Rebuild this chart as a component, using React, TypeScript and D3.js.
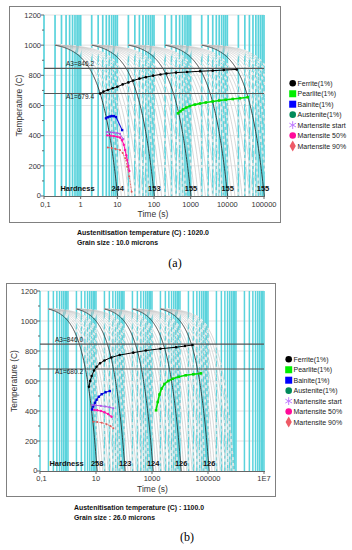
import React from "react";
import * as d3 from "d3";

type Pt = [number, number];

const FONT = "'Liberation Sans', Arial, Helvetica, sans-serif";

// ---------- shared ----------
const tempTicks = [0, 200, 400, 600, 800, 1000, 1200];
const tempMinorTicks = [100, 300, 500, 700, 900, 1100];
const gridMultipliers = [1, 2, 3, 4, 5, 6, 7, 8, 9];
const fanRatios = [0.79, 0.63, 0.5, 0.4, 0.32, 0.25, 0.2, 0.16, 0.13];
const coolStarts = [0.2, 2, 20, 200, 2000];
const coolRates = [100, 10, 1, 0.1, 0.01];
const legendLabels = [
  "Ferrite(1%)",
  "Pearlite(1%)",
  "Bainite(1%)",
  "Austenite(1%)",
  "Martensite start",
  "Martensite 50%",
  "Martensite 90%",
];

// ---------- panel (a) ----------
const timeTicksA = [0.1, 1, 10, 100, 1000, 10000, 100000];
const timeTickLabelsA = ["0,1", "1", "10", "100", "1000", "10000", "100000"];
const coolT0A = 1000;
const a3A = 846.2;
const a1A = 679.4;
const hardnessA = ["244", "153", "155", "155", "155"];
const ferriteA: Pt[] = [
  [3.4, 679], [4.2, 692], [5.5, 703], [7.5, 714], [10, 724], [14, 740], [20, 753],
  [27, 765], [40, 778], [60, 788], [95, 798], [150, 806], [220, 812], [400, 818],
  [800, 822], [1800, 827], [4000, 831], [8000, 835], [18000, 839],
];
const pearliteA: Pt[] = [
  [450, 548], [530, 562], [620, 575], [750, 586], [950, 596], [1300, 606], [1800, 613],
  [2600, 620], [4000, 627], [6000, 633], [9000, 638], [14000, 643], [22000, 648], [36000, 655],
];
const bainiteA: Pt[] = [
  [4.9, 515], [5.5, 522], [6.2, 527], [7, 530], [8, 530], [9.2, 524], [13.5, 437],
];
const msA: Pt[] = [[5.2, 424], [6.5, 422], [8, 420], [10, 417], [11.8, 412], [14.5, 378]];
const m50A: Pt[] = [
  [5.3, 402], [6.5, 400], [8, 397], [10, 393], [11.8, 388], [13.5, 370], [15, 340],
  [16.2, 305], [17.5, 270], [18.6, 238], [20, 200], [21.2, 166],
];
const m90A: Pt[] = [
  [5.5, 322], [7, 318], [9, 312], [11.8, 305], [14, 285], [16.5, 250], [18.6, 194],
  [21, 130], [24.5, 28],
];

// ---------- panel (b) ----------
const timeTicksB = [0.1, 10, 1000, 100000, 10000000];
const timeTickLabelsB = ["0,1", "10", "1000", "100000", "1E7"];
const coolT0B = 1080;
const a3B = 846.0;
const a1B = 680.2;
const hardnessB = ["258", "123", "124", "126", "126"];
const ferriteB: Pt[] = [
  [5.6, 562], [6.2, 600], [7, 633], [8.5, 670], [10.5, 695], [13.9, 718], [20, 737],
  [35, 757], [70, 773], [214, 789], [600, 803], [2000, 815], [7200, 825], [15000, 833],
  [28000, 840],
];
const pearliteB: Pt[] = [
  [1400, 405], [1600, 460], [1850, 510], [2200, 550], [2800, 580], [3800, 600],
  [5500, 615], [9000, 628], [16000, 638], [30000, 645], [56000, 651],
];
const bainiteB: Pt[] = [
  [7.2, 410], [8, 430], [9.2, 455], [10.5, 475], [12.5, 495], [16, 512], [22, 525], [31, 533],
];
const msB: Pt[] = [[7.4, 440], [10, 438], [15, 434], [22, 430], [30, 425], [41.5, 418]];
const m50B: Pt[] = [[8.7, 407], [11, 405], [15, 400], [20, 392], [27, 380], [36, 362]];
const m90B: Pt[] = [[8, 329], [11, 327], [16, 322], [24, 312], [33, 300], [41.5, 285]];

interface PanelCfg {
  id: string;
  frame: [number, number, number, number];
  xRange: [number, number];
  xDomain: [number, number];
  yRange: [number, number];
  xTicks: number[];
  xTickLabels: string[];
  xLabelY: number;
  yLabelX: number;
  T0: number;
  a3: number;
  a1: number;
  aLabelX: number;
  hardness: string[];
  hardnessLabelX: number;
  hardnessY: number;
  ferrite: Pt[];
  pearlite: Pt[];
  bainite: Pt[];
  ms: Pt[];
  m50: Pt[];
  m90: Pt[];
  legendX: number;
  legendY: number;
  legendStep: number;
  timeLabel: [number, number];
  tempLabel: [number, number];
  info: string[];
  infoX: number;
  infoY: number[];
  infoLen: number[];
  caption: string;
  captionPos: [number, number];
  gridW: number;
}

const CYAN = "#5ad3dc";

function Panel({ c }: { c: PanelCfg }) {
  const x = d3.scaleLog().domain(c.xDomain).range(c.xRange);
  const y = d3.scaleLinear().domain([0, 1200]).range(c.yRange);
  const line = d3
    .line<Pt>()
    .x((d) => x(d[0]))
    .y((d) => y(d[1]));

  const e0 = Math.round(Math.log10(c.xDomain[0]));
  const e1 = Math.round(Math.log10(c.xDomain[1]));
  const gridTimes: number[] = [];
  for (let e = e0; e < e1; e++) {
    for (const m of gridMultipliers) gridTimes.push(m * Math.pow(10, e));
  }
  gridTimes.push(c.xDomain[1]);

  const coolPath = (ts: number, r: number) => {
    const tEnd = ts + c.T0 / r;
    const n = 160;
    const pts: Pt[] = d3.range(n).map((i) => {
      const t = ts * Math.pow(tEnd / ts, i / (n - 1));
      return [t, Math.max(0, c.T0 - r * (t - ts))] as Pt;
    });
    return line(pts) || "";
  };

  const [x0, x1] = c.xRange;
  const yBot = y(0);
  const yTop = y(1200);

  const fan: string[] = [];
  coolStarts.forEach((ts, i) => {
    fanRatios.forEach((f) => fan.push(coolPath(ts, coolRates[i] * f)));
  });
  const blacks = coolStarts.map((ts, i) => coolPath(ts, coolRates[i]));
  const ends = coolStarts.map((ts, i) => ts + c.T0 / coolRates[i]);

  const sym = (type: d3.SymbolType, size: number) => d3.symbol().type(type).size(size)() || "";

  const legendSymbols = [
    <circle r={3.3} fill="#000" />,
    <rect x={-3.5} y={-3.5} width={7} height={7} fill="#00ee00" />,
    <rect x={-3.5} y={-3.5} width={7} height={7} fill="#0000ff" />,
    <circle r={3.3} fill="#008a5a" />,
    <path d={sym(d3.symbolAsterisk, 42)} stroke="#c07cff" strokeWidth={1} fill="none" />,
    <circle r={3.3} fill="#ff0a9a" />,
    <path d={sym(d3.symbolDiamond, 34)} fill="#ee5a66" />,
  ];

  return (
    <g>
      <rect
        x={c.frame[0] + 0.5}
        y={c.frame[1] + 0.5}
        width={c.frame[2]}
        height={c.frame[3]}
        fill="#fff"
        stroke="#808080"
        strokeWidth={1}
      />
      <defs>
        <clipPath id={`clip-${c.id}`}>
          <rect x={x0} y={yTop} width={x1 - x0 + 1} height={yBot - yTop} />
        </clipPath>
      </defs>
      {tempTicks.slice(1).map((t) => (
        <line key={`hg${t}`} x1={x0} x2={x1} y1={y(t)} y2={y(t)} stroke="#e2e2e2" strokeWidth={1} />
      ))}
      {gridTimes.map((t, i) => (
        <line key={`cg${i}`} x1={x(t)} x2={x(t)} y1={yTop} y2={yBot} stroke={CYAN} strokeWidth={c.gridW} />
      ))}
      <g clipPath={`url(#clip-${c.id})`}>
        {fan.map((d, i) => (
          <path key={`fw${i}`} d={d} fill="none" stroke="#fff" strokeWidth={1.6} strokeDasharray="3 3" />
        ))}
        {fan.map((d, i) => (
          <path key={`fg${i}`} d={d} fill="none" stroke="#bdbdbd" strokeWidth={0.6} />
        ))}
        {blacks.map((d, i) => (
          <path key={`bk${i}`} d={d} fill="none" stroke="#333" strokeWidth={0.9} />
        ))}
      </g>
      {[c.a3, c.a1].map((a, i) => (
        <line key={`al${i}`} x1={x0} x2={x1} y1={y(a)} y2={y(a)} stroke="#555" strokeWidth={1.1} />
      ))}
      <text x={c.aLabelX} y={y(c.a3) - 2.5} fontSize={6.5} fontFamily={FONT} fill="#222">
        {`A3=${c.a3.toFixed(1)}`}
      </text>
      <text x={c.aLabelX} y={y(c.a1) + 5.5} fontSize={6.5} fontFamily={FONT} fill="#222">
        {`A1=${c.a1.toFixed(1)}`}
      </text>
      <path d={line(c.ferrite) || ""} fill="none" stroke="#000" strokeWidth={1} />
      {c.ferrite.map((p, i) => (
        <circle key={`fd${i}`} cx={x(p[0])} cy={y(p[1])} r={1.3} fill="#000" />
      ))}
      <path d={line(c.pearlite) || ""} fill="none" stroke="#00e000" strokeWidth={1.6} />
      {c.pearlite.map((p, i) => (
        <rect key={`pd${i}`} x={x(p[0]) - 1.3} y={y(p[1]) - 1.3} width={2.6} height={2.6} fill="#00dd00" />
      ))}
      <path d={line(c.bainite) || ""} fill="none" stroke="#1a1ad8" strokeWidth={1.1} />
      {c.bainite.map((p, i) => (
        <rect key={`bd${i}`} x={x(p[0]) - 1.2} y={y(p[1]) - 1.2} width={2.4} height={2.4} fill="#0000dd" />
      ))}
      <path d={line(c.ms) || ""} fill="none" stroke="#b05ae8" strokeWidth={1} />
      {c.ms.map((p, i) => (
        <circle key={`sd${i}`} cx={x(p[0])} cy={y(p[1])} r={1.1} fill="#b05ae8" />
      ))}
      <path d={line(c.m50) || ""} fill="none" stroke="#ff14a8" strokeWidth={1.1} />
      {c.m50.map((p, i) => (
        <circle key={`m5${i}`} cx={x(p[0])} cy={y(p[1])} r={1.2} fill="#ff14a8" />
      ))}
      <path d={line(c.m90) || ""} fill="none" stroke="#e86a6a" strokeWidth={0.9} strokeDasharray="2 1" />
      {c.m90.map((p, i) => (
        <circle key={`m9${i}`} cx={x(p[0])} cy={y(p[1])} r={1} fill="#e05a5a" />
      ))}
      <line x1={x0} x2={x1 + 1} y1={yBot + 0.5} y2={yBot + 0.5} stroke="#666" strokeWidth={1} />
      {c.xTicks.map((t, i) => (
        <g key={`xt${i}`}>
          <line x1={x(t)} x2={x(t)} y1={yBot} y2={yBot + 3} stroke="#666" strokeWidth={1} />
          <text x={x(t) + (i === 0 ? 1.5 : 0)} y={c.xLabelY} textAnchor="middle" fontSize={7.5} fontFamily={FONT} fill="#333">
            {c.xTickLabels[i]}
          </text>
        </g>
      ))}
      {tempTicks.map((t) => (
        <g key={`yt${t}`}>
          <line x1={x0 - 3} x2={x0} y1={y(t)} y2={y(t)} stroke="#666" strokeWidth={1} />
          <text x={c.yLabelX} y={y(t) + (t === 0 ? 1.8 : 2.7)} textAnchor="end" fontSize={7.5} fontFamily={FONT} fill="#333">
            {t}
          </text>
        </g>
      ))}
      {tempMinorTicks.map((t) => (
        <line key={`ym${t}`} x1={x0 - 2} x2={x0} y1={y(t)} y2={y(t)} stroke="#666" strokeWidth={1} />
      ))}
      <text x={c.hardnessLabelX} y={c.hardnessY} textAnchor="middle" fontSize={7.5} fontWeight="bold" fontFamily={FONT} fill="#111">
        Hardness
      </text>
      {c.hardness.map((h, i) => (
        <text key={`hd${i}`} x={Math.min(x(ends[i]), x1 - 1)} y={c.hardnessY} textAnchor="middle" fontSize={7.5} fontWeight="bold" fontFamily={FONT} fill="#111">
          {h}
        </text>
      ))}
      <text x={c.timeLabel[0]} y={c.timeLabel[1]} textAnchor="middle" fontSize={8.5} fontFamily={FONT} fill="#333">
        Time (s)
      </text>
      <text
        transform={`translate(${c.tempLabel[0]},${c.tempLabel[1]}) rotate(-90)`}
        textAnchor="middle"
        fontSize={8.5}
        fontFamily={FONT}
        fill="#333"
      >
        Temperature (C)
      </text>
      {legendLabels.map((l, i) => (
        <g key={`lg${i}`} transform={`translate(${c.legendX},${c.legendY + i * c.legendStep})`}>
          {legendSymbols[i]}
          <text x={4.8} y={2.5} fontSize={7} fontFamily={FONT} fill="#222">
            {l}
          </text>
        </g>
      ))}
      {c.info.map((s, i) => (
        <text
          key={`in${i}`}
          x={c.infoX}
          y={c.infoY[i]}
          fontSize={7}
          fontWeight="bold"
          fontFamily={FONT}
          fill="#111"
          textLength={c.infoLen[i]}
          lengthAdjust="spacingAndGlyphs"
        >
          {s}
        </text>
      ))}
      <text
        x={c.captionPos[0]}
        y={c.captionPos[1]}
        textAnchor="middle"
        fontSize={12}
        fontFamily="'Liberation Serif', 'Times New Roman', serif"
        fill="#000"
      >
        {c.caption}
      </text>
    </g>
  );
}

const panelA: PanelCfg = {
  id: "a",
  frame: [9, 6, 271, 216],
  xRange: [44, 264],
  xDomain: [0.1, 100000],
  yRange: [196, 15],
  xTicks: timeTicksA,
  xTickLabels: timeTickLabelsA,
  xLabelY: 206.5,
  yLabelX: 41,
  T0: coolT0A,
  a3: a3A,
  a1: a1A,
  aLabelX: 66,
  hardness: hardnessA,
  hardnessLabelX: 77.5,
  hardnessY: 191,
  ferrite: ferriteA,
  pearlite: pearliteA,
  bainite: bainiteA,
  ms: msA,
  m50: m50A,
  m90: m90A,
  legendX: 292.7,
  legendY: 83.3,
  legendStep: 10.45,
  timeLabel: [153, 216.5],
  tempLabel: [22, 105.5],
  info: ["Austenitisation temperature (C) : 1020.0", "Grain size : 10.0 microns"],
  infoX: 77,
  infoY: [235, 245],
  infoLen: [132, 81],
  caption: "(a)",
  captionPos: [175, 267],
  gridW: 1.7,
};

const panelB: PanelCfg = {
  id: "b",
  frame: [6, 283, 269, 213],
  xRange: [40, 264],
  xDomain: [0.1, 10000000],
  yRange: [471, 291],
  xTicks: timeTicksB,
  xTickLabels: timeTickLabelsB,
  xLabelY: 480.5,
  yLabelX: 37.5,
  T0: coolT0B,
  a3: a3B,
  a1: a1B,
  aLabelX: 55,
  hardness: hardnessB,
  hardnessLabelX: 66.5,
  hardnessY: 465.5,
  ferrite: ferriteB,
  pearlite: pearliteB,
  bainite: bainiteB,
  ms: msB,
  m50: m50B,
  m90: m90B,
  legendX: 288.7,
  legendY: 359.3,
  legendStep: 10.45,
  timeLabel: [152.5, 491.5],
  tempLabel: [17, 381],
  info: ["Austenitisation temperature (C) : 1100.0", "Grain size : 26.0 microns"],
  infoX: 74,
  infoY: [510, 519.5],
  infoLen: [130, 81],
  caption: "(b)",
  captionPos: [187, 541],
  gridW: 1.5,
};

export default function App() {
  return (
    <svg
      width={352}
      height={550}
      viewBox="0 0 352 550"
      style={{ position: "absolute", left: 0, top: 0, background: "#fff" }}
    >
      <rect x={0} y={0} width={352} height={550} fill="#fff" />
      <Panel c={panelA} />
      <Panel c={panelB} />
    </svg>
  );
}
